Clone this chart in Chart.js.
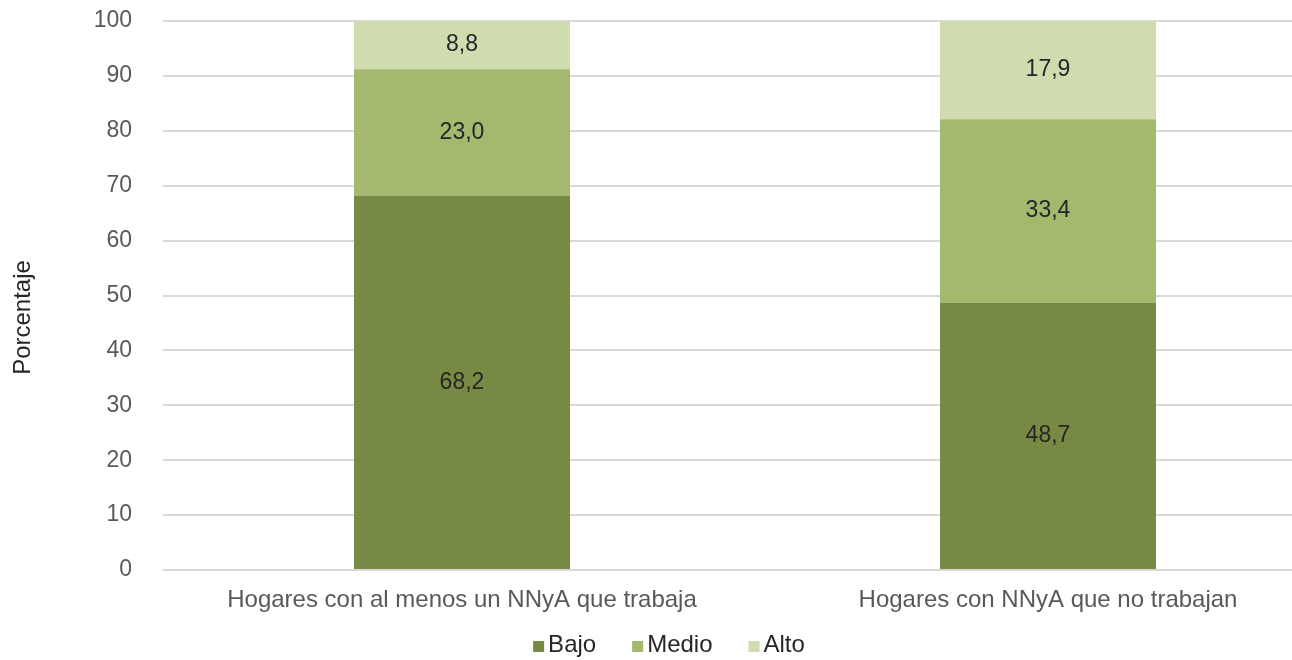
<!DOCTYPE html>
<html lang="es">
<head>
<meta charset="utf-8">
<title>Hogares según nivel</title>
<script src="https://cdn.jsdelivr.net/npm/chart.js@4.4.1/dist/chart.umd.min.js"></script>
<style>
  html, body { margin: 0; padding: 0; background: #fff; overflow: hidden; }
  #wrap { position: relative; width: 1341px; height: 660px; }
</style>
</head>
<body>
<div id="wrap"><canvas id="chart"></canvas></div>
<script>
// ── Data ──────────────────────────────────────────────────
const categories = ['Hogares con al menos un NNyA que trabaja', 'Hogares con NNyA que no trabajan'];
const seriesNames = ['Bajo', 'Medio', 'Alto'];
const bajo  = [68.2, 48.7];
const medio = [23.0, 33.4];
const alto  = [8.8, 17.9];
const yTicks = [0, 10, 20, 30, 40, 50, 60, 70, 80, 90, 100];
const yTitle = 'Porcentaje';

// ── Styles ────────────────────────────────────────────────
const FONT = '"Liberation Sans", Arial, Helvetica, sans-serif';
const COLORS = ['#768a43', '#a3b96d', '#cfdcb0'];
const TEXT_DARK = '#262626';
const TEXT_GREY = '#595959';

const fmt = v => v.toFixed(1).replace('.', ',');

// values in the middle of each segment
const segmentLabels = {
  id: 'segmentLabels',
  afterDatasetsDraw(chart) {
    const ctx = chart.ctx;
    ctx.save();
    ctx.font = `23px ${FONT}`;
    ctx.fillStyle = TEXT_DARK;
    ctx.textAlign = 'center';
    ctx.textBaseline = 'middle';
    chart.data.datasets.forEach((ds, i) => {
      chart.getDatasetMeta(i).data.forEach((bar, j) => {
        const { x, y, base } = bar.getProps(['x', 'y', 'base'], true);
        ctx.fillText(fmt(ds.data[j]), x, (y + base) / 2);
      });
    });
    ctx.restore();
  }
};

// y title + legend below the axis labels
const extras = {
  id: 'extras',
  afterDraw(chart) {
    const { ctx, chartArea } = chart;
    ctx.save();

    // axis title
    ctx.font = `24px ${FONT}`;
    ctx.fillStyle = TEXT_DARK;
    ctx.textAlign = 'center';
    ctx.textBaseline = 'middle';
    ctx.translate(23, (chartArea.top + chartArea.bottom) / 2 + 22);
    ctx.rotate(-Math.PI / 2);
    ctx.fillText(yTitle, 0, 0);
    ctx.setTransform(1, 0, 0, 1, 0, 0);

    // legend
    ctx.font = `24px ${FONT}`;
    ctx.textAlign = 'left';
    ctx.textBaseline = 'alphabetic';
    const box = 11, gap = 4, spacing = 36, baseY = 652;
    const items = chart.data.datasets.map(ds => ({
      text: ds.label, color: ds.backgroundColor, w: ctx.measureText(ds.label).width
    }));
    const total = items.reduce((s, it) => s + box + gap + it.w, 0) + spacing * (items.length - 1);
    let x = 669 - total / 2;
    items.forEach(it => {
      ctx.fillStyle = it.color;
      ctx.fillRect(x, baseY - box, box, box);
      ctx.fillStyle = TEXT_DARK;
      ctx.fillText(it.text, x + box + gap, baseY);
      x += box + gap + it.w + spacing;
    });
    ctx.restore();
  }
};

const seriesData = [bajo, medio, alto];

new Chart(document.getElementById('chart'), {
  type: 'bar',
  data: {
    labels: categories,
    datasets: seriesNames.map((name, i) => ({
      label: name,
      data: seriesData[i],
      backgroundColor: COLORS[i],
      borderWidth: 0,
      barPercentage: 0.3686,
      categoryPercentage: 1
    }))
  },
  options: {
    responsive: true,
    maintainAspectRatio: false,
    animation: false,
    events: [],
    layout: { padding: { top: 21, right: 0, bottom: 0, left: 0 } },
    plugins: { legend: { display: false }, tooltip: { enabled: false } },
    scales: {
      x: {
        stacked: true,
        grid: { display: false, drawTicks: false },
        border: { display: false },
        ticks: { color: TEXT_GREY, font: { size: 24, family: FONT }, padding: 16, maxRotation: 0, autoSkip: false },
        afterFit: s => { s.height = 90; }
      },
      y: {
        stacked: true,
        min: 0,
        max: 100,
        afterBuildTicks: s => { s.ticks = yTicks.map(v => ({ value: v })); },
        afterFit: s => { s.width = 169; s.paddingTop = 0; s.paddingBottom = 0; },
        grid: { color: '#d9d9d9', lineWidth: 2, drawTicks: true, tickLength: 6, tickColor: '#d9d9d9' },
        border: { display: false },
        ticks: { color: TEXT_GREY, font: { size: 23, family: FONT }, padding: 31 }
      }
    }
  },
  plugins: [segmentLabels, extras]
});
</script>
</body>
</html>
